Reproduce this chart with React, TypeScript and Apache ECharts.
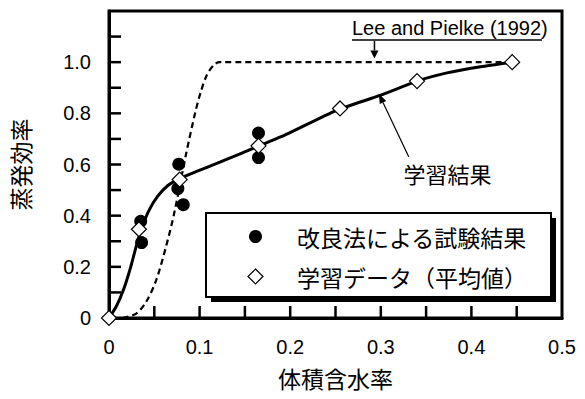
import React, { useEffect, useRef } from "react";
import * as echarts from "echarts";

// Measured results of the improved method (volumetric water content, evaporation efficiency)
const trialResults: [number, number][] = [
  [0.035, 0.378],
  [0.036, 0.295],
  [0.077, 0.601],
  [0.076, 0.506],
  [0.082, 0.443],
  [0.165, 0.723],
  [0.165, 0.627],
];

// Training data (averaged)
const trainingMeans: [number, number][] = [
  [0, 0],
  [0.033, 0.347],
  [0.078, 0.541],
  [0.165, 0.673],
  [0.255, 0.819],
  [0.34, 0.926],
  [0.445, 1.0],
];

// Learned curve
const learnedCurve: [number, number][] = [
  [0, 0],
  [0.008, 0.045],
  [0.016, 0.11],
  [0.024, 0.2],
  [0.03, 0.28],
  [0.036, 0.35],
  [0.044, 0.42],
  [0.054, 0.477],
  [0.065, 0.518],
  [0.078, 0.545],
  [0.096, 0.572],
  [0.123, 0.61],
  [0.165, 0.672],
  [0.197, 0.72],
  [0.25, 0.81],
  [0.3, 0.871],
  [0.34, 0.926],
  [0.373, 0.958],
  [0.41, 0.982],
  [0.445, 1.0],
];

// Lee and Pielke (1992)
const leePielkeCurve: [number, number][] = [
  [0.015, 0.0],
  [0.03, 0.017],
  [0.041, 0.063],
  [0.052, 0.147],
  [0.063, 0.28],
  [0.072, 0.41],
  [0.085, 0.64],
  [0.095, 0.8],
  [0.101, 0.88],
  [0.108, 0.95],
  [0.116, 0.99],
  [0.122, 1.0],
  [0.445, 1.0],
];

const xLabelValues = [0, 0.1, 0.2, 0.3, 0.4, 0.5];
const yLabelValues = [0, 0.2, 0.4, 0.6, 0.8, 1.0];
// inward tick marks along the bottom and left axes
const xTickValues = [0.05, 0.1, 0.15, 0.2, 0.25, 0.3, 0.35, 0.4, 0.45];
const yTickValues = [0.1, 0.2, 0.3, 0.4, 0.5, 0.6, 0.7, 0.8, 0.9, 1.0, 1.1];

const names = {
  trial: "改良法による試験結果",
  training: "学習データ（平均値）",
  learned: "学習結果",
  lee: "Lee and Pielke (1992)",
  x: "体積含水率",
  y: "蒸発効率",
};

// Data-space points the two annotation arrows point at
const leeArrowTip: [number, number] = [0.293, 1.014];
const learnedArrowTip: [number, number] = [0.2977, 0.878];

const LATIN = "'Liberation Sans', Arial, sans-serif";
const CJK = "'Noto Sans CJK JP', sans-serif";
const TICK_LEN = 12;
const TICK_WIDTH = 2.5;

const fmt = (list: number[]) => (v: number) => {
  const hit = list.find((t) => Math.abs(t - v) < 1e-6);
  if (hit === undefined) return "";
  return hit === 0 ? "0" : hit.toFixed(1);
};

function arrowHead(tip: number[], tail: number[], len: number, half: number) {
  const dx = tip[0] - tail[0];
  const dy = tip[1] - tail[1];
  const d = Math.hypot(dx, dy);
  const ux = dx / d;
  const uy = dy / d;
  const bx = tip[0] - ux * len;
  const by = tip[1] - uy * len;
  return {
    points: [
      [tip[0], tip[1]],
      [bx - uy * half, by + ux * half],
      [bx + uy * half, by - ux * half],
    ],
    base: [bx, by],
  };
}

function axisStyle() {
  return {
    type: "value" as const,
    nameLocation: "middle" as const,
    nameTextStyle: { fontFamily: CJK, fontSize: 23, color: "#000" },
    axisLine: { show: true, onZero: false, lineStyle: { color: "#000", width: 3 } },
    axisTick: { show: false },
    splitLine: { show: false },
  };
}

export default function App() {
  const ref = useRef<HTMLDivElement>(null);

  useEffect(() => {
    const chart = echarts.init(ref.current!, null, { renderer: "svg" });
    chart.setOption({
      animation: false,
      backgroundColor: "#fff",
      grid: {
        left: 108,
        right: 23,
        top: 11,
        bottom: 81,
        show: true,
        backgroundColor: "transparent",
        borderColor: "#000",
        borderWidth: 3,
        containLabel: false,
      },
      xAxis: {
        ...axisStyle(),
        min: 0,
        max: 0.5,
        interval: 0.1,
        name: names.x,
        nameGap: 48,
        axisLabel: { formatter: fmt(xLabelValues), fontFamily: LATIN, fontSize: 20, color: "#000", margin: 19 },
      },
      yAxis: {
        ...axisStyle(),
        min: 0,
        max: 1.2,
        interval: 0.2,
        name: names.y,
        nameGap: 78,
        axisLabel: { formatter: fmt(yLabelValues), fontFamily: LATIN, fontSize: 20, color: "#000", margin: 18 },
      },
      series: [
        {
          name: names.lee,
          type: "line",
          data: leePielkeCurve,
          smooth: 0.3,
          symbol: "none",
          lineStyle: { color: "#000", width: 2.2, type: [6, 4] },
          z: 2,
        },
        {
          name: names.learned,
          type: "line",
          data: learnedCurve,
          smooth: 0.2,
          symbol: "none",
          lineStyle: { color: "#000", width: 3 },
          z: 3,
        },
        {
          name: names.trial,
          type: "scatter",
          data: trialResults,
          symbol: "circle",
          symbolSize: 13,
          itemStyle: { color: "#000", opacity: 1 },
          z: 4,
        },
        {
          name: names.training,
          type: "scatter",
          data: trainingMeans,
          symbol: "diamond",
          symbolSize: 15,
          itemStyle: { color: "#fff", borderColor: "#000", borderWidth: 1.2, opacity: 1 },
          z: 5,
        },
      ],
    });

    const toPx = (p: number[]) => chart.convertToPixel({ gridIndex: 0 }, p) as number[];

    // tick marks positioned through the axis scales, pointing into the plot
    const xTicks = xTickValues.map((v) => {
      const p = toPx([v, 0]);
      return {
        type: "line",
        shape: { x1: p[0], y1: p[1], x2: p[0], y2: p[1] - TICK_LEN },
        style: { stroke: "#000", lineWidth: TICK_WIDTH },
        z: 9,
      };
    });
    const yTicks = yTickValues.map((v) => {
      const p = toPx([0, v]);
      return {
        type: "line",
        shape: { x1: p[0], y1: p[1], x2: p[0] + TICK_LEN, y2: p[1] },
        style: { stroke: "#000", lineWidth: TICK_WIDTH },
        z: 9,
      };
    });

    const leeTip = toPx(leeArrowTip);
    const learnedTip = toPx(learnedArrowTip);

    const leeTail = [leeTip[0], 41];
    const leeHead = arrowHead(leeTip, leeTail, 8, 4);
    const learnedTail = [learnedTip[0] + 30, learnedTip[1] + 63.4];
    const learnedHead = arrowHead(learnedTip, learnedTail, 10, 3.5);

    // legend box geometry
    const box = { x: 206, y: 213, w: 345, h: 84 };
    const row1 = 236.5;
    const row2 = 276.5;
    const iconX = 255.5;
    const textX = 297;

    chart.setOption({
      graphic: [
        ...xTicks,
        ...yTicks,
        // Lee and Pielke label, underline and arrow
        {
          type: "text",
          left: 352,
          top: 18,
          style: { text: names.lee, font: `20px ${LATIN}`, fill: "#000" },
          z: 10,
        },
        {
          type: "line",
          shape: { x1: 352, y1: 40, x2: 542, y2: 40 },
          style: { stroke: "#000", lineWidth: 1.5 },
          z: 10,
        },
        {
          type: "line",
          shape: { x1: leeTail[0], y1: leeTail[1], x2: leeHead.base[0], y2: leeHead.base[1] },
          style: { stroke: "#000", lineWidth: 1.5 },
          z: 10,
        },
        { type: "polygon", shape: { points: leeHead.points }, style: { fill: "#000" }, z: 10 },
        // learned-curve label and arrow
        {
          type: "text",
          x: 447.5,
          y: 172.5,
          style: {
            text: names.learned,
            font: `22px ${CJK}`,
            fill: "#000",
            align: "center",
            verticalAlign: "middle",
          },
          z: 10,
        },
        {
          type: "line",
          shape: { x1: learnedTail[0], y1: learnedTail[1], x2: learnedHead.base[0], y2: learnedHead.base[1] },
          style: { stroke: "#000", lineWidth: 1.2 },
          z: 10,
        },
        { type: "polygon", shape: { points: learnedHead.points }, style: { fill: "#000" }, z: 10 },
        // legend with drop shadow
        {
          type: "rect",
          shape: { x: box.x + 5, y: box.y + 5, width: box.w, height: box.h },
          style: { fill: "#000" },
          z: 20,
        },
        {
          type: "rect",
          shape: { x: box.x, y: box.y, width: box.w, height: box.h },
          style: { fill: "#fff", stroke: "#000", lineWidth: 2 },
          z: 21,
        },
        {
          type: "circle",
          shape: { cx: iconX, cy: row1, r: 6.5 },
          style: { fill: "#000" },
          z: 22,
        },
        {
          type: "polygon",
          shape: {
            points: [
              [iconX, row2 - 7.5],
              [iconX + 7.5, row2],
              [iconX, row2 + 7.5],
              [iconX - 7.5, row2],
            ],
          },
          style: { fill: "#fff", stroke: "#000", lineWidth: 1.2 },
          z: 22,
        },
        {
          type: "text",
          x: textX,
          y: row1,
          style: { text: names.trial, font: `23px ${CJK}`, fill: "#000", verticalAlign: "middle" },
          z: 22,
        },
        {
          type: "text",
          x: textX,
          y: row2,
          style: { text: names.training, font: `23px ${CJK}`, fill: "#000", verticalAlign: "middle" },
          z: 22,
        },
      ],
    });

    return () => chart.dispose();
  }, []);

  return (
    <div
      ref={ref}
      style={{ position: "fixed", left: 0, top: 0, width: 585, height: 399, background: "#fff" }}
    />
  );
}
